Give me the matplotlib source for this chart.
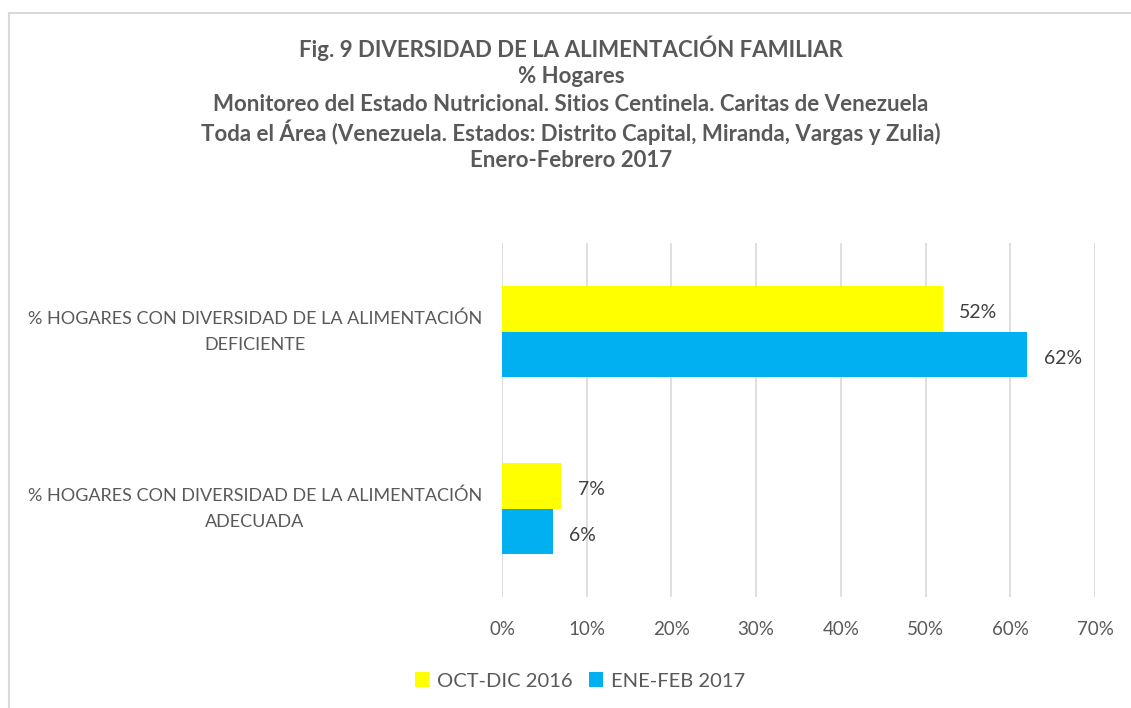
import matplotlib
matplotlib.use("Agg")
import matplotlib.pyplot as plt
from matplotlib.lines import Line2D
from matplotlib.patches import Patch

plt.rcParams['font.family'] = ['Lato', 'DejaVu Sans']

categories = ["% HOGARES CON DIVERSIDAD DE LA ALIMENTACIÓN\nDEFICIENTE",
              "% HOGARES CON DIVERSIDAD DE LA ALIMENTACIÓN\nADECUADA"]
series_names = ["OCT-DIC 2016", "ENE-FEB 2017"]
oct_dic_2016 = [52, 7]
ene_feb_2017 = [62, 6]
x_ticks = [0, 10, 20, 30, 40, 50, 60, 70]

title_lines = ["Fig. 9 DIVERSIDAD DE LA ALIMENTACIÓN FAMILIAR",
               "% Hogares",
               "Monitoreo del Estado Nutricional. Sitios Centinela. Caritas de Venezuela",
               "Toda el Área (Venezuela. Estados: Distrito Capital, Miranda, Vargas y Zulia)",
               "Enero-Febrero 2017"]

text_gray = "#595959"
grid_gray = "#D9D9D9"
colors = ["#FFFF00", "#00B0F0"]

fig = plt.figure(figsize=(11.31, 7.08), dpi=100)
ax = fig.add_axes([502 / 1131, 1 - 597 / 708, 593 / 1131, 354 / 708])

h = 0.257
ys = list(range(len(categories)))
ax.barh([y - h / 2 for y in ys], oct_dic_2016, height=h, color=colors[0], zorder=3)
ax.barh([y + h / 2 for y in ys], ene_feb_2017, height=h, color=colors[1], zorder=3)

# value labels, outside end
for y, v in zip(ys, oct_dic_2016):
    ax.annotate(f"{v}%", (v, y - h / 2), xytext=(12, -3), textcoords="offset points",
                va="center", ha="left", fontsize=14, color="#404040")
for y, v in zip(ys, ene_feb_2017):
    ax.annotate(f"{v}%", (v, y + h / 2), xytext=(12, -3), textcoords="offset points",
                va="center", ha="left", fontsize=14, color="#404040")

ax.set_xlim(0, 70)
ax.set_ylim(1.5, -0.5)
ax.set_xticks(x_ticks)
ax.set_xticklabels([f"{t}%" for t in x_ticks], fontsize=13.5, color=text_gray)
ax.set_yticks([])
ax.tick_params(axis="x", length=0, pad=17)
ax.grid(axis="x", color=grid_gray, linewidth=1.2, zorder=0)
for s in ax.spines.values():
    s.set_visible(False)

# category labels, centred multi-line like Excel
for y, c in zip(ys, categories):
    ax.text(-29.2, y, c, ha="center", va="center",
            fontsize=13, color=text_gray, linespacing=1.75,
            multialignment="center", clip_on=False)

# title
for i, line in enumerate(title_lines):
    fig.text(571 / 1131, 1 - (48 + 28.2 * i) / 708, line, ha="center", va="center",
             fontsize=16, fontweight="bold", color=text_gray)

handles = [Patch(facecolor=c) for c in colors]
fig.legend(handles, series_names, loc="center", bbox_to_anchor=(580 / 1131, 1 - 681 / 708),
           ncol=2, frameon=False, fontsize=14.5, labelcolor=text_gray,
           handlelength=0.7, handleheight=0.7, handletextpad=0.4, columnspacing=0.8)

# chart border
fig.add_artist(Line2D([9 / 1131, 9 / 1131], [0, 1 - 13 / 708], color=grid_gray, lw=1.5))
fig.add_artist(Line2D([9 / 1131, 1], [1 - 13 / 708, 1 - 13 / 708], color=grid_gray, lw=1.5))

fig.savefig("out.png", dpi=100)
